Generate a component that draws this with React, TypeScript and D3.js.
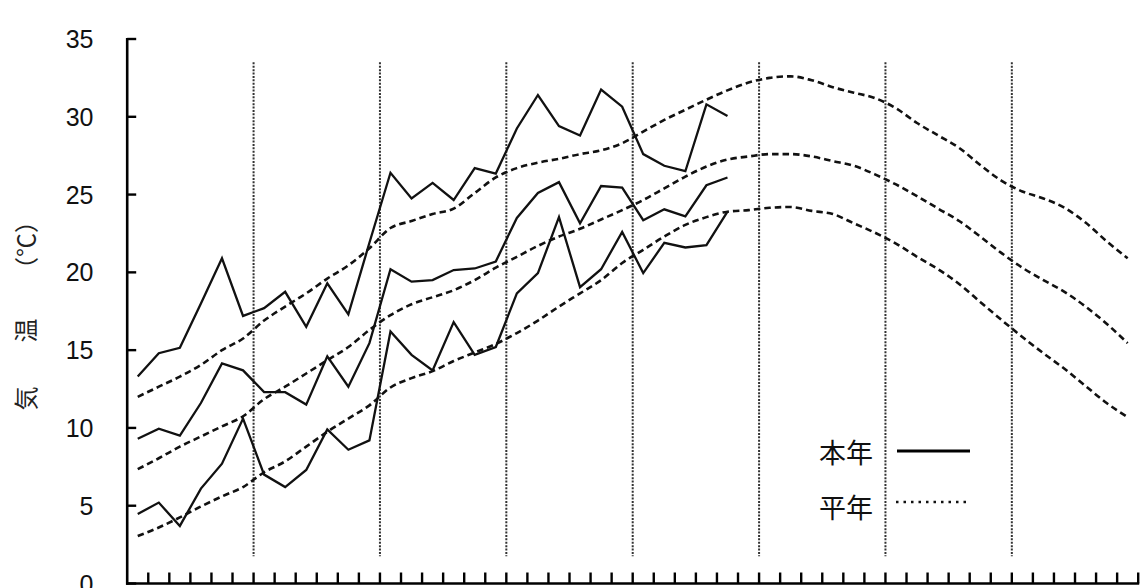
import React from "react";
import * as d3 from "d3";

// pentads (半旬) March–October: 48 periods, 6 per month
const pentadCount = 48;
const monthBoundaries = [6, 12, 18, 24, 30, 36, 42];
const yTicks = [0, 5, 10, 15, 20, 25, 30, 35];

// 本年 (this year) — observed, 29 pentads
const maxThisYear = [13.3, 14.8, 15.15, 18.0, 20.9, 17.2, 17.7, 18.75, 16.5, 19.3, 17.3, 21.9, 26.4, 24.75, 25.75, 24.65, 26.7, 26.35, 29.25, 31.4, 29.4, 28.8, 31.75, 30.65, 27.6, 26.85, 26.5, 30.8, 30.05];
const meanThisYear = [9.3, 9.95, 9.5, 11.6, 14.15, 13.7, 12.3, 12.3, 11.5, 14.6, 12.65, 15.45, 20.2, 19.4, 19.5, 20.15, 20.25, 20.7, 23.5, 25.1, 25.8, 23.15, 25.55, 25.45, 23.35, 24.05, 23.6, 25.6, 26.1];
const minThisYear = [4.47, 5.2, 3.7, 6.1, 7.7, 10.6, 7.0, 6.2, 7.3, 9.9, 8.6, 9.2, 16.2, 14.7, 13.7, 16.8, 14.7, 15.2, 18.65, 19.95, 23.55, 19.05, 20.2, 22.6, 19.95, 21.9, 21.6, 21.75, 23.9];

// 平年 (normal) — 48 pentads
const maxNormal = [12.0, 12.65, 13.3, 14.05, 15.0, 15.75, 16.9, 17.8, 18.65, 19.6, 20.45, 21.55, 22.85, 23.3, 23.75, 24.1, 25.1, 26.1, 26.7, 27.05, 27.3, 27.6, 27.85, 28.3, 29.05, 29.8, 30.45, 31.1, 31.7, 32.2, 32.5, 32.6, 32.35, 31.9, 31.55, 31.2, 30.55, 29.6, 28.8, 28.0, 26.9, 25.9, 25.2, 24.75, 24.15, 23.2, 22.0, 20.9];
const meanNormal = [7.35, 8.05, 8.8, 9.45, 10.1, 10.75, 11.85, 12.65, 13.5, 14.35, 15.2, 16.3, 17.25, 17.95, 18.4, 18.85, 19.5, 20.3, 21.0, 21.7, 22.3, 22.8, 23.4, 24.0, 24.65, 25.4, 26.15, 26.8, 27.25, 27.45, 27.6, 27.6, 27.45, 27.15, 26.85, 26.3, 25.65, 24.9, 24.1, 23.3, 22.3, 21.25, 20.3, 19.5, 18.75, 17.8, 16.7, 15.45];
const minNormal = [3.05, 3.6, 4.25, 4.95, 5.6, 6.2, 7.15, 7.85, 8.8, 9.75, 10.6, 11.45, 12.6, 13.2, 13.65, 14.3, 14.85, 15.4, 16.1, 16.9, 17.8, 18.65, 19.5, 20.6, 21.45, 22.3, 23.05, 23.55, 23.9, 24.0, 24.15, 24.2, 23.95, 23.75, 23.15, 22.55, 21.85, 21.0, 20.2, 19.25, 18.1, 16.95, 15.85, 14.8, 13.8, 12.7, 11.6, 10.7];

const legendLabels = ["本年", "平年"];
const yTitleParts = ["気", "温", "（℃）"];

const W = 1142;
const H = 588;

export default function App() {
  const x = d3.scaleLinear().domain([0, pentadCount]).range([127.2, 1138.2]);
  const y = d3.scaleLinear().domain([0, 35]).range([583.5, 39]);

  const solid = d3
    .line<number>()
    .x((_, i) => x(i + 0.5))
    .y((d) => y(d));
  const smooth = d3
    .line<number>()
    .x((_, i) => x(i + 0.5))
    .y((d) => y(d))
    .curve(d3.curveMonotoneX);

  const pentadTicks = d3.range(1, pentadCount + 1);

  return (
    <svg
      width={W}
      height={H}
      style={{ position: "absolute", left: 0, top: 0, background: "#fff" }}
      fontFamily="'Liberation Sans', Arial, sans-serif"
    >
      <rect x={0} y={0} width={W} height={H} fill="#fff" />
      {/* month boundary dotted lines */}
      {monthBoundaries.map((m) => (
        <line
          key={m}
          x1={x(m)}
          x2={x(m)}
          y1={y(33.5)}
          y2={y(1.75)}
          stroke="#333"
          strokeWidth={2}
          strokeDasharray="2,1.4"
        />
      ))}

      {/* normals (dashed) */}
      {[maxNormal, meanNormal, minNormal].map((s, i) => (
        <path
          key={"n" + i}
          d={smooth(s) || ""}
          fill="none"
          stroke="#111"
          strokeWidth={2.6}
          strokeDasharray="6.5,4"
        />
      ))}

      {/* this year (solid) */}
      {[maxThisYear, meanThisYear, minThisYear].map((s, i) => (
        <path
          key={"t" + i}
          d={solid(s) || ""}
          fill="none"
          stroke="#111"
          strokeWidth={2.3}
          strokeLinejoin="miter"
        />
      ))}

      {/* y axis */}
      <line x1={x(0)} x2={x(0)} y1={y(35) - 1} y2={y(0) + 1.2} stroke="#000" strokeWidth={2.6} />
      {yTicks.map((t) => (
        <g key={t}>
          <line x1={x(0)} x2={x(0) + 9} y1={y(t)} y2={y(t)} stroke="#000" strokeWidth={2.4} />
          <text
            x={93.5}
            y={y(t)}
            dy="0.36em"
            textAnchor="end"
            fontSize={25}
            fill="#111"
          >
            {t}
          </text>
        </g>
      ))}

      {/* x axis */}
      <line x1={x(0) - 1.2} x2={x(pentadCount) + 1} y1={y(0)} y2={y(0)} stroke="#000" strokeWidth={2.6} />
      {pentadTicks.map((k) => (
        <line key={k} x1={x(k)} x2={x(k)} y1={y(0)} y2={y(0) - 11} stroke="#000" strokeWidth={2.4} />
      ))}

      {/* y title */}
      <g fontFamily="'Noto Sans CJK JP', sans-serif" fontSize={24} fill="#222">
        <text transform={`translate(24,398.5) rotate(-90)`} textAnchor="middle" dominantBaseline="central">
          {yTitleParts[0]}
        </text>
        <text transform={`translate(24,330.5) rotate(-90)`} textAnchor="middle" dominantBaseline="central">
          {yTitleParts[1]}
        </text>
        <text transform={`translate(24,245) rotate(-90)`} textAnchor="middle" dominantBaseline="central">
          {yTitleParts[2]}
        </text>
      </g>

      {/* legend */}
      <g fontFamily="'Noto Sans CJK JP', sans-serif" fontSize={27} fill="#111">
        <text x={873} y={463} textAnchor="end">{legendLabels[0]}</text>
        <line x1={897} x2={970} y1={451} y2={451} stroke="#000" strokeWidth={3} />
        <text x={873} y={518} textAnchor="end">{legendLabels[1]}</text>
        <line x1={896} x2={970} y1={502} y2={502} stroke="#111" strokeWidth={2.6} strokeDasharray="2.5,5" />
      </g>
    </svg>
  );
}
